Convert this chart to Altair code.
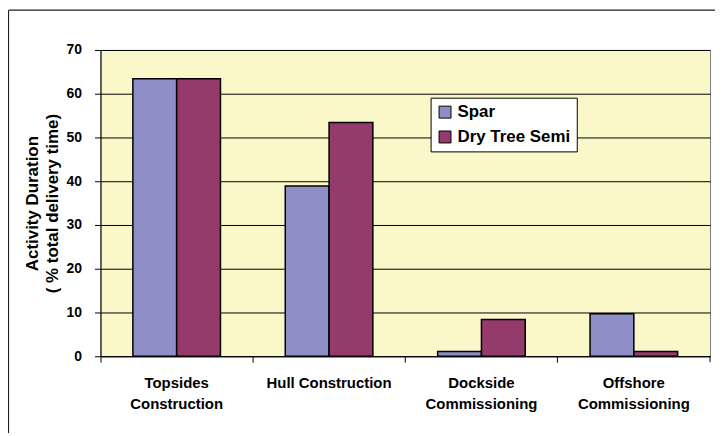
import altair as alt
import pandas as pd

categories = ["Topsides|Construction", "Hull Construction", "Dockside|Commissioning", "Offshore|Commissioning"]
series = ["Spar", "Dry Tree Semi"]
spar = [63.4, 38.9, 1.1, 9.7]
dry_tree_semi = [63.4, 53.4, 8.4, 1.1]
colors = ["#8E8FC6", "#953B6B"]
y_ticks = [0, 10, 20, 30, 40, 50, 60, 70]

rows = []
for c, a, b in zip(categories, spar, dry_tree_semi):
    rows.append({"category": c, "series": series[0], "value": a})
    rows.append({"category": c, "series": series[1], "value": b})
df = pd.DataFrame(rows)

FONT = "Liberation Sans"

bars = alt.Chart(df).mark_bar(stroke="black", strokeWidth=1.5).encode(
    x=alt.X(
        "category:N",
        sort=categories,
        scale=alt.Scale(paddingInner=0, paddingOuter=0),
        axis=alt.Axis(
            title=None,
            labelExpr="split(datum.label, '|')",
            labelAngle=0,
            bandPosition=0,
            labelFont=FONT,
            labelFontSize=15,
            labelFontWeight="bold",
            labelColor="black",
            labelLineHeight=22,
            labelPadding=13,
            labelBound=False,
            labelOverlap=False,
            domainColor="black",
            tickColor="black",
            tickSize=6,
        ),
    ),
    xOffset=alt.XOffset("series:N", sort=series, scale=alt.Scale(paddingOuter=0.74, paddingInner=0)),
    y=alt.Y(
        "value:Q",
        scale=alt.Scale(domain=[0, 70], nice=False),
        axis=alt.Axis(
            values=y_ticks,
            title=["Activity Duration", "( % total delivery time)"],
            titleFont=FONT,
            titleFontSize=17,
            titleFontWeight="bold",
            titleColor="black",
            titleLineHeight=20,
            titlePadding=5,
            labelFont=FONT,
            labelFontSize=14,
            labelFontWeight="bold",
            labelColor="black",
            labelPadding=13,
            grid=True,
            gridColor="black",
            gridWidth=1,
            domainColor="black",
            tickColor="black",
            tickSize=6,
        ),
    ),
    color=alt.Color(
        "series:N",
        sort=series,
        scale=alt.Scale(domain=series, range=colors),
        legend=alt.Legend(
            title=None,
            orient="none",
            legendX=332,
            legendY=48,
            fillColor="white",
            strokeColor="black",
            padding=6,
            symbolType="square",
            symbolSize=144,
            symbolStrokeColor="black",
            symbolStrokeWidth=1,
            labelFont=FONT,
            labelFontSize=17,
            labelFontWeight="bold",
            labelColor="black",
            rowPadding=7,
            labelOffset=4,
        ),
    ),
)

frame_df = pd.DataFrame({"a": [0]})
frame_v = alt.Chart(frame_df).mark_rule(color="#222222", strokeWidth=1.2).encode(
    x=alt.value(-92.5), y=alt.value(-40), y2=alt.value(600)
)
frame_h = alt.Chart(frame_df).mark_rule(color="#222222", strokeWidth=1.2).encode(
    x=alt.value(-92.5), x2=alt.value(800), y=alt.value(-40)
)
end_tick = alt.Chart(frame_df).mark_rule(color="black", strokeWidth=1).encode(
    x=alt.value(613), y=alt.value(308), y2=alt.value(314)
)

chart = alt.layer(frame_v, frame_h, bars, end_tick).properties(
    width=613,
    height=308,
    autosize=alt.AutoSizeParams(type="none"),
    padding={"left": 93, "top": 41, "right": 5, "bottom": 76},
    background="white",
).configure_view(fill="#FAF7C9", stroke="#808080", strokeWidth=1)

chart.save("out.html", embed_options={"renderer": "svg", "actions": False})
